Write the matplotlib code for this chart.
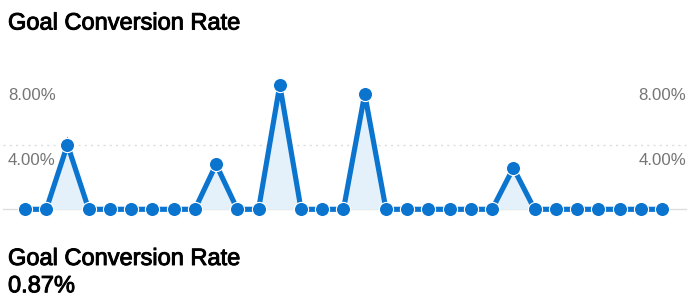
import matplotlib
matplotlib.use("Agg")
import matplotlib.pyplot as plt
import matplotlib.transforms as mtransforms
import matplotlib.patheffects as pe
import numpy as np

plt.rcParams['font.family'] = ['Liberation Sans', 'DejaVu Sans']

# Data
values = [0, 0, 4.00, 0, 0, 0, 0, 0, 0, 2.78, 0, 0, 7.69, 0, 0, 0,
          7.14, 0, 0, 0, 0, 0, 0, 2.56, 0, 0, 0, 0, 0, 0, 0]
tick_values = [4, 8]
tick_labels = ["4.00%", "8.00%"]
title = "Goal Conversion Rate"
metric_name = "Goal Conversion Rate"
metric_value = "0.87%"

W, H = 692, 303
fig = plt.figure(figsize=(W / 100, H / 100), dpi=100)
ax = fig.add_axes([0, 0, 1, 1])
ax.set_axis_off()

x = np.arange(len(values))
px_per_idx = 21.233
x0_px = 25
ax.set_xlim(-x0_px / px_per_idx, (W - x0_px) / px_per_idx)
base_px = 209.3
px_per_pct = 16.15
ax.set_ylim(-(H - base_px) / px_per_pct, base_px / px_per_pct)

line_color = "#0a74cf"
fill_color = "#e5f1fa"
grid_color = "#dddddd"

ytr = ax.get_yaxis_transform()
# baseline
ax.plot([3 / W, 686 / W], [0, 0], transform=ytr, color=grid_color, lw=1.0, zorder=1)
# dotted gridline at 4%
ax.plot([3 / W, 686 / W], [4, 4], transform=ytr, color=grid_color, lw=1.0,
        linestyle=(0, (1.5, 3)), zorder=1)

ax.fill_between(x, 0, values, color=fill_color, lw=0, zorder=2)
ax.plot(x, values, color=line_color, lw=3.7, marker='o', markersize=10.2,
        markerfacecolor=line_color, markeredgecolor='white', markeredgewidth=0.8,
        solid_joinstyle='miter', zorder=3)

lab_tr = mtransforms.offset_copy(ytr, fig=fig, y=-20, units='dots')
for v, lab in zip(tick_values, tick_labels):
    ax.text(8 / W, v, lab, transform=lab_tr, ha='left', va='baseline',
            fontsize=12.1, color='#757575')
    ax.text(686 / W, v, lab, transform=lab_tr, ha='right', va='baseline',
            fontsize=12.1, color='#757575')

heavy = [pe.withStroke(linewidth=0.7, foreground='black')]
fig.text(8 / W, 1 - 29.5 / H, title, ha='left', va='baseline', fontsize=17,
         color='black', path_effects=heavy)
fig.text(8 / W, 1 - 265 / H, metric_name, ha='left', va='baseline', fontsize=17,
         color='black', path_effects=heavy)
fig.text(8 / W, 1 - 292.3 / H, metric_value, ha='left', va='baseline', fontsize=17,
         color='black', path_effects=heavy)

fig.savefig("out.png", dpi=100)
